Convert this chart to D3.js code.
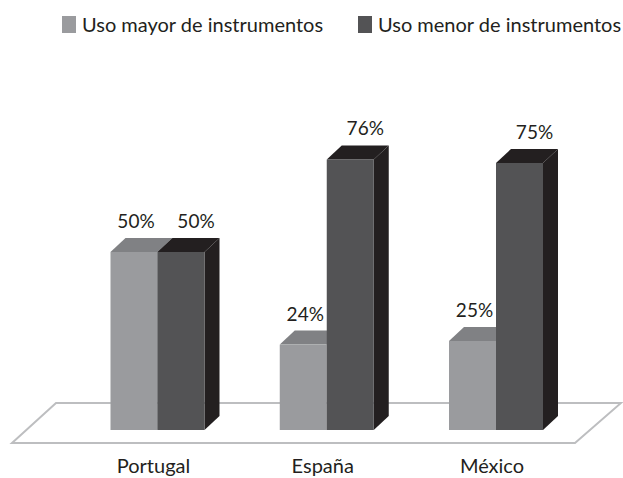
<!DOCTYPE html>
<html>
<head>
<meta charset="utf-8">
<script src="https://cdn.jsdelivr.net/npm/d3@7"></script>
<style>
  html, body { margin: 0; padding: 0; background: #fff; }
  svg { display: block; font-family: Lato, "Open Sans", sans-serif; }
</style>
</head>
<body>
<div id="chart"></div>
<script>
const categories = ["Portugal", "España", "México"];
const seriesNames = ["Uso mayor de instrumentos", "Uso menor de instrumentos"];
const mayor = [50, 24, 25];
const menor = [50, 76, 75];

const width = 623;
const height = 478;
const depthX = 15;
const depthY = 14;

const palette = [
  { front: "#9a9b9e", top: "#808184", side: "#6d6e71", labelShift: 2 },
  { front: "#535355", top: "#231f20", side: "#231f20", labelShift: 15 },
];

const svg = d3
  .select("#chart")
  .append("svg")
  .attr("width", width)
  .attr("height", height);

const x0 = d3
  .scaleBand()
  .domain(categories)
  .range([110.5, 543])
  .paddingInner(0.4446)
  .paddingOuter(0);

const x1 = d3
  .scaleBand()
  .domain(seriesNames)
  .range([0, x0.bandwidth()])
  .padding(0);

const y = d3.scaleLinear().domain([0, 100]).range([430, 74]);

// floor
const floor = [
  [56, 403],
  [621, 403],
  [575, 443],
  [12, 443],
];
svg
  .append("path")
  .attr("d", d3.line()(floor) + "Z")
  .attr("fill", "#fff")
  .attr("stroke", "#bdbec0")
  .attr("stroke-width", 2);

const rows = categories.map((c, i) => ({
  category: c,
  values: [mayor[i], menor[i]],
}));

const groups = svg
  .selectAll(".group")
  .data(rows)
  .join("g")
  .attr("class", "group")
  .attr("transform", (d) => `translate(${x0(d.category)},0)`);

const bars = groups
  .selectAll(".bar")
  .data((d) => d.values.map((v, j) => ({ v, j, name: seriesNames[j] })))
  .join("g")
  .attr("class", "bar");

const w = x1.bandwidth();

bars
  .append("path")
  .attr("fill", (d) => palette[d.j].side)
  .attr("d", (d) => {
    const xl = x1(d.name) + w;
    const t = y(d.v);
    const b = y(0);
    return d3.line()([
      [xl, t],
      [xl + depthX, t - depthY],
      [xl + depthX, b - depthY],
      [xl, b],
    ]) + "Z";
  });

bars
  .append("path")
  .attr("fill", (d) => palette[d.j].top)
  .attr("d", (d) => {
    const xl = x1(d.name);
    const t = y(d.v);
    return d3.line()([
      [xl, t],
      [xl + depthX, t - depthY],
      [xl + w + depthX, t - depthY],
      [xl + w, t],
    ]) + "Z";
  });

bars
  .append("rect")
  .attr("x", (d) => x1(d.name))
  .attr("y", (d) => y(d.v))
  .attr("width", w)
  .attr("height", (d) => y(0) - y(d.v))
  .attr("fill", (d) => palette[d.j].front);

bars
  .append("text")
  .attr("x", (d) => x1(d.name) + w / 2 + palette[d.j].labelShift)
  .attr("y", (d) => y(d.v) - depthY - 10)
  .attr("text-anchor", "middle")
  .attr("fill", "#231f20")
  .style("font-size", "19px")
  .text((d) => d.v + "%");

// category labels
svg
  .append("g")
  .selectAll("text")
  .data(categories)
  .join("text")
  .attr("x", (d) => x0(d) + x0.bandwidth() / 2 - 4)
  .attr("y", 473)
  .attr("text-anchor", "middle")
  .attr("fill", "#231f20")
  .style("font-size", "20px")
  .text((d) => d);

// legend
const legendX = [62, 358];
const legend = svg
  .append("g")
  .selectAll("g")
  .data(seriesNames)
  .join("g")
  .attr("transform", (d, i) => `translate(${legendX[i]},16)`);

legend
  .append("rect")
  .attr("width", 14)
  .attr("height", 17)
  .attr("fill", (d, i) => palette[i].front);

legend
  .append("text")
  .attr("x", 20)
  .attr("y", 16)
  .attr("fill", "#231f20")
  .style("font-size", "20px")
  .text((d) => d);
</script>
</body>
</html>
